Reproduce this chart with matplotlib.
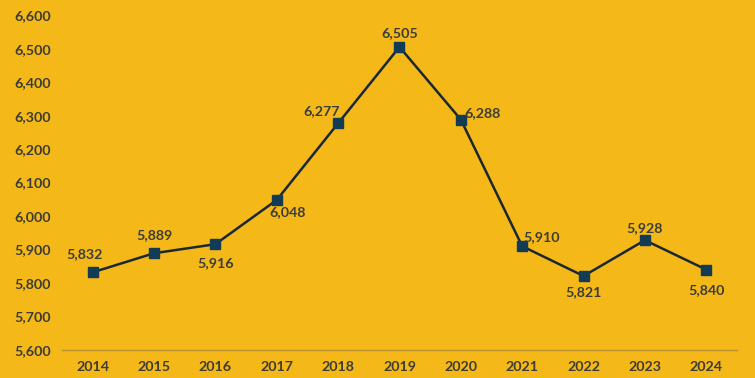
import matplotlib.pyplot as plt

years = ['2014', '2015', '2016', '2017', '2018', '2019', '2020', '2021', '2022', '2023', '2024']
values = [5832, 5889, 5916, 6048, 6277, 6505, 6288, 5910, 5821, 5928, 5840]
# label offsets in pixels (dx, dy)
offsets = [(-8, 18), (0, 18), (0, -19), (11, -12), (-16, 12), (0, 14),
           (22, 7), (19, 9), (0, -16), (0, 12), (0, -20)]

bg = '#F4B819'
txt = '#3D3D35'

plt.rcParams['font.family'] = ['Lato', 'DejaVu Sans']

fig = plt.figure(figsize=(7.55, 3.78), dpi=100, facecolor=bg)
ax = fig.add_axes([0.0821, 0.074, 0.894, 0.886])
ax.set_facecolor(bg)

x = list(range(len(years)))
ax.plot(x, values, color='#1B2733', lw=1.8, marker='s', ms=6.5,
        markerfacecolor='#123B55', markeredgecolor='#123B55', zorder=3)

for xi, v, (dx, dy) in zip(x, values, offsets):
    ax.annotate(f'{v:,}', (xi, v), xytext=(dx, dy), textcoords='offset pixels',
                ha='center', va='center', fontsize=10.3, fontweight='bold', color=txt)

ax.set_xlim(-0.5, len(years) - 0.5)
ax.set_ylim(5600, 6600)
ax.set_yticks(range(5600, 6601, 100))
ax.set_yticklabels([f'{t:,}' for t in range(5600, 6601, 100)])
ax.set_xticks(x)
ax.set_xticklabels(years)
ax.tick_params(length=0, labelsize=10.3, labelcolor=txt, pad=8)
for lab in ax.get_xticklabels() + ax.get_yticklabels():
    lab.set_fontweight('bold')

for s in ['top', 'right', 'left']:
    ax.spines[s].set_visible(False)
ax.spines['bottom'].set_color('#B8922A')
ax.spines['bottom'].set_linewidth(1)

fig.savefig('out.png', dpi=100, facecolor=bg)
